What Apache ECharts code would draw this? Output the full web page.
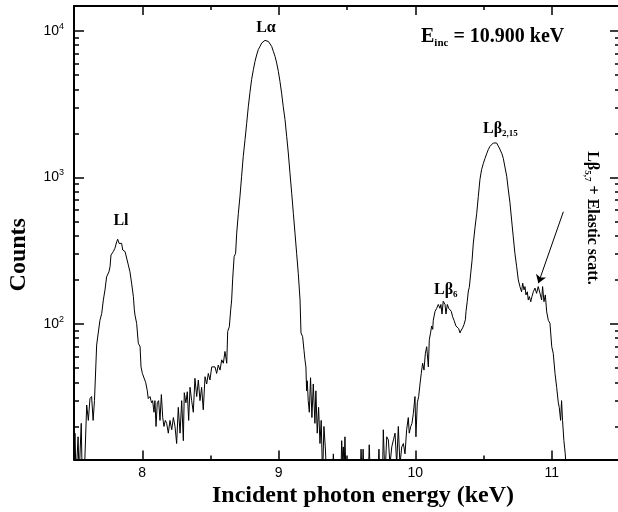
<!DOCTYPE html>
<html>
<head>
<meta charset="utf-8">
<script src="https://cdn.jsdelivr.net/npm/echarts@6/dist/echarts.min.js"></script>
<style>
html,body{margin:0;padding:0;background:#fff;}
#chart{width:618px;height:512px;}
</style>
</head>
<body>
<div id="chart"></div>
<script>
// ---- data ----
const energy = [
7.500,7.507,7.515,7.524,7.530,7.537,7.545,7.553,7.560,7.575,
7.588,7.593,7.605,7.617,7.629,7.640,7.650,7.666,7.678,7.690,
7.703,7.715,7.727,7.739,7.747,7.756,7.764,7.771,7.781,7.788,
7.800,7.813,7.820,7.830,7.837,7.849,7.857,7.866,7.874,7.886,
7.898,7.910,7.922,7.935,7.942,7.947,7.959,7.971,7.984,7.991,
8.001,8.013,8.025,8.037,8.044,8.057,8.064,8.069,8.076,8.086,
8.093,8.101,8.110,8.120,8.130,8.140,8.150,8.159,8.169,8.179,
8.191,8.203,8.216,8.228,8.240,8.252,8.264,8.277,8.289,8.301,
8.308,8.320,8.330,8.340,8.350,8.362,8.374,8.386,8.399,8.411,
8.423,8.435,8.447,8.460,8.472,8.484,8.496,8.509,8.521,8.533,
8.545,8.557,8.570,8.582,8.594,8.606,8.619,8.626,8.638,8.648,
8.655,8.662,8.668,8.673,8.684,8.692,8.704,8.716,8.728,8.740,
8.753,8.765,8.777,8.789,8.801,8.814,8.826,8.838,8.850,8.863,
8.875,8.887,8.899,8.912,8.924,8.936,8.948,8.960,8.973,8.985,
8.997,9.009,9.021,9.033,9.046,9.058,9.070,9.082,9.095,9.107,
9.119,9.131,9.143,9.156,9.163,9.175,9.185,9.192,9.199,9.204,
9.209,9.216,9.224,9.233,9.243,9.253,9.265,9.272,9.282,9.292,
9.302,9.311,9.321,9.331,9.341,9.351,9.392,9.400,9.408,9.455,
9.461,9.467,9.473,9.479,9.485,9.493,9.596,9.603,9.611,9.618,
9.625,9.656,9.663,9.671,9.727,9.734,9.741,9.760,9.766,9.778,
9.791,9.803,9.815,9.828,9.840,9.852,9.864,9.876,9.888,9.901,
9.913,9.925,9.937,9.949,9.956,9.967,9.976,9.986,9.998,10.005,
10.015,10.025,10.035,10.044,10.054,10.064,10.074,10.084,10.096,10.103,
10.113,10.120,10.128,10.132,10.145,10.157,10.169,10.181,10.188,10.196,
10.205,10.218,10.225,10.235,10.245,10.255,10.264,10.274,10.284,10.298,
10.308,10.318,10.328,10.337,10.347,10.357,10.367,10.372,10.381,10.389,
10.396,10.406,10.416,10.425,10.438,10.450,10.462,10.474,10.486,10.499,
10.511,10.523,10.535,10.547,10.560,10.572,10.584,10.596,10.608,10.616,
10.626,10.635,10.645,10.657,10.670,10.682,10.694,10.706,10.718,10.730,
10.743,10.755,10.767,10.779,10.787,10.797,10.804,10.811,10.821,10.828,
10.836,10.846,10.855,10.865,10.877,10.889,10.901,10.914,10.926,10.933,
10.943,10.953,10.963,10.975,10.987,11.000,11.011,11.024,11.036,11.048,
11.055,11.065,11.072,11.079,11.089,11.099,11.109,11.150
];
const counts = [
9,18,9,9,17,9,9,21,9,9,
9,28,22,31,32,22,30,72,74,106,
118,146,171,210,205,227,246,296,304,312,
329,365,379,355,365,355,320,324,312,304,
253,227,190,154,125,115,101,74,70,51,
46,45,40,35,31,32,30,29,30,25,
30,20,29,30,22,33,23,20,22,21,
18,22,19,23,20,15.3,27,18,30,16,
34,29,34.5,22,37,30,25,42.6,32,41.5,
30,37,26,43.7,39,46,41.5,51,50,51,
46,52.5,48.5,57,54,65,54,89,96,125,
146,200,200,288,304,417,569,744,1020,1395,
1813,2344,3040,3800,4653,5445,6190,6850,7456,7850,
8270,8480,8620,8725,8480,8270,7850,7270,6690,6040,
5300,4520,3760,3040,2482,1910,1470,1076,780,569,
417,304,222,146,87,82,66,57,51,35,
41,30,25,43,23,39,21,35,18,27,
15.3,22,9,20,14.5,9,9,13,9,9,
16,12,14.5,10,17,9,9,14,9,14,
9,9,15,9,9,14,9,9,19,9,
17,16.2,11,14.5,16.2,18,11,20,11,14.5,
15.3,13,19,23,18,20,21,24.5,32,17,
29,32,39,46,54,48.5,63,70,51,78,
88,97,92,106,122,128,136,128,136,117,
143,136,117,136,128,132,122,112,106,97,
100,93,87,91,94,99,107,122,143,168,
178,220,271,352,458,566,744,970,1131,1250,
1350,1450,1549,1630,1675,1720,1735,1720,1700,1590,
1549,1450,1350,1180,1020,821,672,512,394,304,
246,200,180,166,190,171,180,158,166,146,
154,142,154,166,176,162,180,162,146,180,
142,158,121,106,101,70,63,46,37,29,
27,22,30,22,16,13,9,9
];
const xMajorTicks = [8, 9, 10, 11];
const xMinorTicks = [8.5, 9.5, 10.5];
const yMajorTicks = [100, 1000, 10000];
const yMinorTicks = [20,30,40,50,60,70,80,90,200,300,400,500,600,700,800,900,2000,3000,4000,5000,6000,7000,8000,9000];
const arrowFrom = [11.085, 584];
const arrowTo = [10.902, 190];

// ---- chart ----
const serif = '"Liberation Serif","Times New Roman",serif';
const sans = '"Liberation Sans",Arial,sans-serif';
const X_MIN = 7.5, X_MAX = 11.5, Y_MIN = 11.9, Y_MAX = 14800;
const axisLineStyle = { color: '#000', width: 2 };

function xAx(position, ticks, len, showLine, extra) {
  return Object.assign({
    type: 'value', position: position, min: X_MIN, max: X_MAX, interval: 0.5,
    axisLine: { show: showLine, onZero: false, lineStyle: axisLineStyle },
    axisTick: { show: true, inside: true, length: len, customValues: ticks, lineStyle: { color: '#000', width: 1.5 } },
    axisLabel: { show: false },
    splitLine: { show: false }
  }, extra || {});
}
function yAx(position, ticks, len, showLine, extra) {
  return Object.assign({
    type: 'log', logBase: 10, position: position, min: Y_MIN, max: Y_MAX,
    axisLine: { show: showLine, onZero: false, lineStyle: axisLineStyle },
    axisTick: { show: true, inside: true, length: len, customValues: ticks, lineStyle: { color: '#000', width: 1.5 } },
    axisLabel: { show: false },
    splitLine: { show: false },
    minorTick: { show: false },
    minorSplitLine: { show: false }
  }, extra || {});
}

const subStyle = (size, drop) => ({
  fontSize: size, fontWeight: 'bold', fontFamily: serif, fill: '#000', color: '#000',
  padding: [drop * 2, 0, 0, 0]
});
function annot(x, y, text, size, align, rich, rotation) {
  return {
    type: 'text', x: x, y: y, rotation: rotation || 0, z: 100,
    style: {
      text: text, font: 'bold ' + size + 'px ' + serif, fill: '#000',
      align: align, textAlign: align, verticalAlign: 'middle', textVerticalAlign: 'middle',
      rich: rich || {}
    }
  };
}

const chart = echarts.init(document.getElementById('chart'), null, { renderer: 'canvas' });
const option = {
  animation: false,
  backgroundColor: '#fff',
  grid: { left: 74, right: -2, top: 6, bottom: 52.5, containLabel: false, outerBoundsMode: 'none' },
  xAxis: [
    xAx('bottom', xMajorTicks, 9, true, {
      axisLabel: {
        show: true, customValues: xMajorTicks, margin: 7, color: '#000',
        fontSize: 14, fontFamily: sans,
        formatter: v => (Math.abs(v - Math.round(v)) < 1e-6 ? String(Math.round(v)) : '')
      },
      name: 'Incident photon energy (keV)', nameLocation: 'middle', nameGap: 24, nameMoveOverlap: false,
      nameTextStyle: { fontSize: 24, fontWeight: 'bold', fontFamily: serif, color: '#000', padding: [0, 0, 0, 32] }
    }),
    xAx('bottom', xMinorTicks, 4, false),
    xAx('top', xMajorTicks, 9, true),
    xAx('top', xMinorTicks, 4, false)
  ],
  yAxis: [
    yAx('left', yMajorTicks, 10, true, {
      axisLabel: {
        show: true, customValues: yMajorTicks, margin: 10, color: '#000',
        fontSize: 14, fontFamily: sans,
        formatter: v => {
          const e = Math.log10(v);
          if (Math.abs(e - Math.round(e)) > 1e-6) return '';
          return '10{sup|' + Math.round(e) + '}';
        },
        rich: { sup: { fontSize: 9, fontFamily: sans, color: '#000', padding: [0, 0, 9, 0] } }
      },
      name: 'Counts', nameLocation: 'middle', nameGap: 43, nameRotate: 90, nameMoveOverlap: false,
      nameTextStyle: { fontSize: 24, fontWeight: 'bold', fontFamily: serif, color: '#000', padding: [0, 44, 0, 0] }
    }),
    yAx('left', yMinorTicks, 5, false),
    yAx('right', yMajorTicks, 10, true),
    yAx('right', yMinorTicks, 5, false)
  ],
  series: [{
    type: 'line',
    xAxisIndex: 0, yAxisIndex: 0,
    data: energy.map((e, i) => [e, counts[i]]),
    showSymbol: false, symbol: 'none',
    lineStyle: { color: '#000', width: 1 },
    clip: true,
    silent: true,
    markLine: {
      silent: true, animation: false,
      symbol: ['none', 'arrow'], symbolSize: 8,
      label: { show: false },
      lineStyle: { color: '#000', width: 1, type: 'solid' },
      emphasis: { disabled: true },
      data: [[{ coord: arrowFrom }, { coord: arrowTo }]]
    }
  }],
  graphic: [
    annot(121, 221, 'Ll', 16, 'center'),
    annot(266, 28, 'L\u03b1', 16, 'center'),
    annot(421, 37, 'E{s|inc} = 10.900 keV', 20, 'left', { s: subStyle(11, 6) }),
    annot(483, 129, 'L\u03b2{s|2,15}', 16, 'left', { s: subStyle(9, 5) }),
    annot(434, 290, 'L\u03b2{s|6}', 16, 'left', { s: subStyle(9, 5) }),
    annot(592, 218, 'L\u03b2{s|5,7} + Elastic scatt.', 16, 'center', { s: subStyle(9, 5) }, -Math.PI / 2)
  ]
};
chart.setOption(option);
</script>
</body>
</html>
